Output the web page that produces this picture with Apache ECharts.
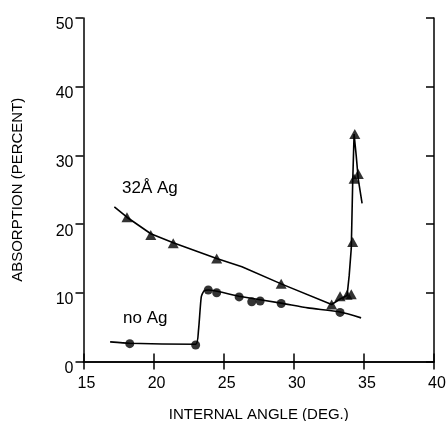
<!DOCTYPE html>
<html>
<head>
<meta charset="utf-8">
<script src="https://cdn.jsdelivr.net/npm/echarts@6/dist/echarts.min.js"></script>
<style>
  html, body { margin: 0; padding: 0; background: #fff; }
  #chart { width: 448px; height: 421px; }
</style>
</head>
<body>
<div id="chart"></div>
<script>
// measured points (markers)
const noAgAngle = [18.3, 23.0, 23.9, 24.5, 26.1, 27.0, 27.6, 29.1, 33.3];
const noAgAbs = [2.6, 2.4, 10.4, 10.0, 9.4, 8.7, 8.8, 8.45, 7.15];
const agAngle = [18.1, 19.8, 21.4, 24.5, 29.1, 32.7, 33.3, 33.8, 34.1, 34.2, 34.3, 34.6, 34.35];
const agAbs = [21.0, 18.4, 17.2, 15.0, 11.3, 8.3, 9.5, 9.7, 9.8, 17.4, 26.6, 27.3, 33.1];

// hand-drawn curves through the points
const noAgCurve = [
  [16.9, 2.85], [18.3, 2.65], [23.0, 2.5], [23.2, 4.5], [23.4, 9.4], [23.6, 10.3],
  [23.9, 10.4], [26.1, 9.5], [29.1, 8.5], [31.0, 7.8], [33.3, 7.2], [34.8, 6.35]
];
const agCurve = [
  [17.2, 22.5], [18.1, 21.0], [19.8, 18.6], [21.4, 17.3], [24.5, 15.0], [26.3, 13.8],
  [29.1, 11.3], [32.7, 8.3], [33.3, 9.1], [33.8, 9.6], [33.95, 12.5], [34.1, 16.5],
  [34.2, 26.0], [34.3, 33.1], [34.45, 30.0], [34.6, 26.5], [34.87, 23.0]
];

const xTicks = [15, 20, 25, 30, 35, 40];
const yTicks = [0, 10, 20, 30, 40, 50];

const chart = echarts.init(document.getElementById('chart'));
const font = 'Liberation Sans';
const axisLine = { show: true, lineStyle: { color: '#000', width: 1.5 } };
const tick = (inside) => ({ show: true, inside: inside, length: 8, lineStyle: { color: '#000', width: 1.5 } });

const pairs = (xs, ys) => xs.map((x, i) => [x, ys[i]]);

chart.setOption({
  backgroundColor: '#fff',
  animation: false,
  grid: { left: 83.5, right: 14, top: 18, bottom: 59.5, containLabel: false, outerBoundsMode: 'none' },
  xAxis: [
    {
      type: 'value', position: 'bottom', min: xTicks[0], max: xTicks[xTicks.length - 1], interval: 5,
      name: 'INTERNAL ANGLE (DEG.)', nameLocation: 'middle', nameGap: 46,
      nameTextStyle: { fontFamily: font, fontSize: 15, color: '#000' },
      axisLine: axisLine,
      axisTick: tick(true),
      axisLabel: { fontFamily: font, fontSize: 16, color: '#000', margin: 14, padding: [0, 0, 0, 6] },
      splitLine: { show: false }
    },
    {
      type: 'value', position: 'top', min: 15, max: 40, interval: 5,
      axisLine: axisLine, axisTick: tick(true),
      axisLabel: { show: false }, splitLine: { show: false }
    }
  ],
  yAxis: [
    {
      type: 'value', position: 'left', min: yTicks[0], max: yTicks[yTicks.length - 1], interval: 10,
      name: 'ABSORPTION (PERCENT)', nameLocation: 'middle', nameGap: 58,
      nameTextStyle: { fontFamily: font, fontSize: 15, color: '#000' },
      axisLine: axisLine,
      axisTick: tick(false),
      axisLabel: { fontFamily: font, fontSize: 16, color: '#000', margin: 10, verticalAlign: 'top', lineHeight: 14 },
      splitLine: { show: false }
    },
    {
      type: 'value', position: 'right', min: 0, max: 50, interval: 10,
      axisLine: axisLine, axisTick: tick(true),
      axisLabel: { show: false }, splitLine: { show: false }
    }
  ],
  series: [
    {
      type: 'line', data: noAgCurve, smooth: 0.2, symbol: 'none',
      lineStyle: { color: '#000', width: 1.6 }
    },
    {
      type: 'scatter', data: pairs(noAgAngle, noAgAbs), symbol: 'circle', symbolSize: 9,
      itemStyle: { color: '#000' }
    },
    {
      type: 'line', data: agCurve, smooth: false, symbol: 'none',
      lineStyle: { color: '#000', width: 1.6 }
    },
    {
      type: 'scatter', data: pairs(agAngle, agAbs), symbol: 'triangle', symbolSize: [11, 10],
      itemStyle: { color: '#000' }
    }
  ],
  graphic: [
    { type: 'text', left: 122, top: 180, style: { text: '32Å Ag', font: '17px "Liberation Sans"', fill: '#000' } },
    { type: 'text', left: 123, top: 310, style: { text: 'no Ag', font: '17px "Liberation Sans"', fill: '#000' } }
  ]
});
</script>
</body>
</html>
